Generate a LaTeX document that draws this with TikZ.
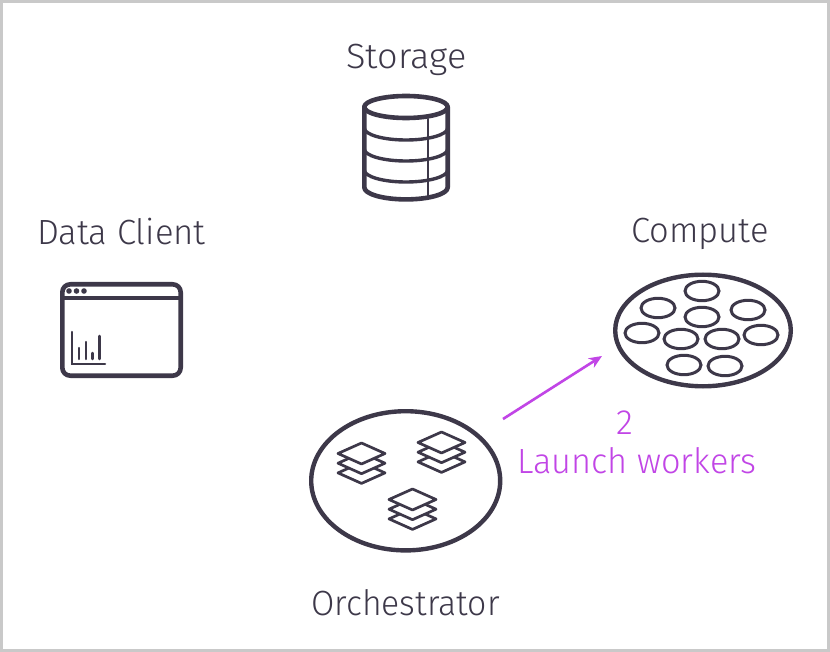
\documentclass[tikz,border=0pt]{standalone}
\usepackage{fontspec}
\setmainfont{Fira Sans Light}
\usetikzlibrary{arrows.meta}
\definecolor{ink}{HTML}{3D3849}
\definecolor{violet}{HTML}{C145E6}
\definecolor{frame}{HTML}{C9C9C9}
\tikzset{
  x=1pt,y=-1pt,
  heavy/.style={draw=ink,line width=4.6pt,line join=round,line cap=round},
  fine/.style={draw=ink,line width=2.5pt,line cap=round},
  pool/.style={draw=ink,line width=4.4pt},
  cell/.style={draw=ink,line width=3pt},
  sheet/.style={draw=ink,line width=2.7pt,fill=white,line join=round},
  title/.style={text=ink,inner sep=0pt,anchor=base,font=\fontsize{35}{35}\selectfont},
  note/.style={text=violet,inner sep=0pt,anchor=base,font=\fontsize{35}{35}\selectfont},
}
% one stack of three overlapping sheets, top sheet centred on the given point
\newcommand{\sheetstack}[2]{%
  \foreach \dy in {19.4,9.7,0}{
    \draw[sheet] (#1-23.5,#2+\dy) -- (#1,#2-10.5+\dy) -- (#1+23.5,#2+\dy) -- (#1,#2+10.5+\dy) -- cycle;
  }}
\begin{document}
\begin{tikzpicture}
\useasboundingbox (0,0) rectangle (830,652);
\fill[white] (0,0) rectangle (830,652);
\draw[frame,line width=3pt] (1.5,1.5) rectangle (828.5,650.5);

% database cylinder
\draw[heavy] (406,107) ellipse [x radius=41.7,y radius=11];
\draw[heavy] (364.3,107) -- (364.3,187.4) arc[start angle=180,end angle=0,x radius=41.7,y radius=12] -- (447.7,107);
\foreach \yy in {128,149,170}{
  \draw[draw=ink,line width=3.4pt] (364.3,\yy) arc[start angle=180,end angle=0,x radius=41.7,y radius=12];
}
\draw[fine] (428,119) -- (428,199);

% browser window with a small bar chart
\draw[heavy,rounded corners=8pt] (62.3,284.3) rectangle (180.7,375.7);
\draw[draw=ink,line width=3.4pt] (62,298) -- (181,298);
\foreach \xx in {69,76.5,84}{ \fill[ink] (\xx,291) circle [radius=2.8]; }
\draw[fine] (72,332) -- (72,364) -- (105,364);
\draw[fine] (79,348) -- (79,359);
\draw[fine] (86,342) -- (86,359);
\draw[fine] (92.5,353) -- (92.5,359);
\draw[fine] (99.5,336) -- (99.5,359);

% compute pool
\draw[pool] (703,330.5) ellipse [x radius=87.8,y radius=55.8];
\foreach \cx/\cy in {702/291, 658/308, 748/310, 702/317, 642/333, 681/339, 722/339, 761/335, 684/365, 725/366}{
  \draw[cell] (\cx,\cy) ellipse [x radius=17,y radius=9.7];
}

% orchestrator pool
\draw[pool] (405.7,480.8) ellipse [x radius=94.5,y radius=69.6];
\sheetstack{361.5}{453.5}
\sheetstack{441.5}{442.5}
\sheetstack{412.5}{499.5}

% launch arrow
\coordinate (launchfrom) at (503,419);
\coordinate (launchto) at (602,356);
\draw[draw=violet,line width=2.6pt,-{Stealth[length=13pt,width=11pt,inset=4pt]}] (launchfrom) -- (launchto);

% labels
\node[title] (storagelabel) at (406.5,68.5) {\scalebox{1.03}[1]{Storage}};
\node[title] (clientlabel) at (121.5,245) {\scalebox{0.99}[1]{Data Client}};
\node[title] (computelabel) at (700,243) {\scalebox{0.985}[1]{Compute}};
\node[title] (orchlabel) at (405.5,615) {\scalebox{0.965}[1]{Orchestrator}};
\node[note] (stepnum) at (625,434) {2};
\node[note] (stepname) at (637,473) {\scalebox{0.98}[1]{Launch workers}};
\end{tikzpicture}
\end{document}
